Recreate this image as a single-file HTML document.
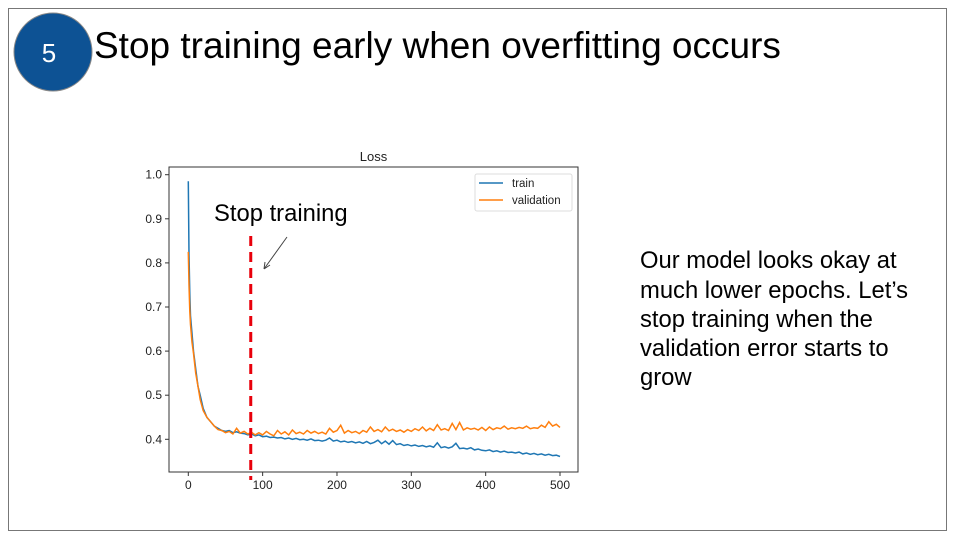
<!DOCTYPE html>
<html><head><meta charset="utf-8"><style>
body{margin:0;width:960px;height:540px;background:#fff;overflow:hidden;font-family:"Liberation Sans",sans-serif;}
</style></head><body>
<svg width="960" height="540" xmlns="http://www.w3.org/2000/svg">
<rect x="8.5" y="8.5" width="938" height="522" fill="#fff" stroke="#777"/>
<circle cx="53" cy="52" r="39" fill="#0d5294" stroke="#888"/>
<text x="49" y="62" font-size="26" fill="#fff" text-anchor="middle">5</text>
<text x="94" y="58" font-size="37" fill="#000">Stop training early when overfitting occurs</text>
<g font-size="23.8" fill="#000">
<text x="640" y="268">Our model looks okay at</text>
<text x="640" y="298">much lower epochs. Let’s</text>
<text x="640" y="327">stop training when the</text>
<text x="640" y="356">validation error starts to</text>
<text x="640" y="385">grow</text>
</g>
<g id="chart"></g>
</svg>
<script>
const epochs=[0,1,2,3,5,7,10,13,16,20,25,30,35,40,45,50,55,60,65,70,75,80,85,90,95,100,105,110,115,120,125,130,135,140,145,150,155,160,165,170,175,180,185,190,195,200,205,210,215,220,225,230,235,240,245,250,255,260,265,270,275,280,285,290,295,300,305,310,315,320,325,330,335,340,345,350,355,360,365,370,375,380,385,390,395,400,405,410,415,420,425,430,435,440,445,450,455,460,465,470,475,480,485,490,495,500];
const trainLoss=[0.985,0.82,0.73,0.68,0.64,0.6,0.56,0.52,0.5,0.47,0.45,0.44,0.43,0.425,0.42,0.418,0.42,0.415,0.417,0.414,0.413,0.41,0.412,0.408,0.41,0.406,0.407,0.404,0.405,0.403,0.404,0.401,0.403,0.4,0.402,0.399,0.4,0.398,0.401,0.397,0.398,0.396,0.398,0.403,0.396,0.398,0.394,0.396,0.393,0.395,0.392,0.394,0.391,0.395,0.39,0.393,0.398,0.39,0.396,0.389,0.397,0.388,0.39,0.386,0.388,0.385,0.387,0.384,0.386,0.383,0.385,0.382,0.392,0.381,0.383,0.38,0.383,0.391,0.379,0.38,0.378,0.381,0.376,0.378,0.375,0.374,0.376,0.372,0.374,0.371,0.373,0.37,0.371,0.369,0.371,0.367,0.369,0.366,0.368,0.365,0.367,0.364,0.366,0.363,0.364,0.361];
const valLoss=[0.825,0.75,0.69,0.66,0.62,0.595,0.55,0.52,0.49,0.465,0.45,0.44,0.43,0.422,0.42,0.415,0.418,0.412,0.425,0.414,0.418,0.412,0.416,0.41,0.415,0.41,0.418,0.412,0.408,0.42,0.412,0.417,0.41,0.421,0.413,0.416,0.412,0.42,0.414,0.418,0.413,0.416,0.412,0.425,0.416,0.42,0.432,0.414,0.42,0.415,0.418,0.413,0.42,0.416,0.428,0.418,0.422,0.417,0.428,0.419,0.423,0.418,0.421,0.416,0.422,0.418,0.424,0.42,0.428,0.419,0.425,0.42,0.433,0.421,0.424,0.42,0.436,0.422,0.438,0.421,0.426,0.423,0.425,0.421,0.427,0.42,0.428,0.422,0.426,0.424,0.43,0.423,0.426,0.424,0.427,0.425,0.43,0.424,0.426,0.425,0.432,0.427,0.44,0.43,0.434,0.427];
const xTicks=[0,100,200,300,400,500];
const yTicks=[0.4,0.5,0.6,0.7,0.8,0.9,1.0];
const stopEpoch=84;

const NS="http://www.w3.org/2000/svg";
const g=document.getElementById('chart');
const L=169,R=578,T=167,B=472;
const xs=v=>188.3+(v-0)*(560-188.3)/500;
const ys=v=>439.3-(v-0.4)*(439.3-174.7)/0.6;
function mk(tag,attrs){const e=document.createElementNS(NS,tag);for(const k in attrs)e.setAttribute(k,attrs[k]);g.appendChild(e);return e;}
let t=mk('text',{x:(L+R)/2,y:161,'font-size':13,fill:'#222','text-anchor':'middle'});t.textContent='Loss';


xTicks.forEach(v=>{const l=mk('line',{x1:xs(v),x2:xs(v),y1:B,y2:B+4,stroke:'#333'});


const tx=mk('text',{x:xs(v),y:B+17,'font-size':12,fill:'#222','text-anchor':'middle'});tx.textContent=v;

});
yTicks.forEach(v=>{const l=mk('line',{x1:L-4,x2:L,y1:ys(v),y2:ys(v),stroke:'#333'});


const tx=mk('text',{x:L-7,y:ys(v)+4,'font-size':12,fill:'#222','text-anchor':'end'});tx.textContent=v.toFixed(1);

});
function series(vals,color,name){const d=vals.map((v,i)=>(i?'L':'M')+xs(epochs[i]).toFixed(1)+','+ys(v).toFixed(1)).join('');
const p=mk('path',{d:d,fill:'none',stroke:color,'stroke-width':1.5});

}
series(trainLoss,'#1f77b4','train-line');
series(valLoss,'#ff7f0e','validation-line');
const fr=mk('rect',{x:L,y:T,width:R-L,height:B-T,fill:'none',stroke:'#333','stroke-width':1});


const sl=mk('line',{x1:xs(stopEpoch),x2:xs(stopEpoch),y1:236,y2:480,stroke:'#e8000b','stroke-width':3,'stroke-dasharray':'10,6'});


const st=mk('text',{x:214,y:221,'font-size':23.8,fill:'#000'});st.textContent='Stop training';


const ar=mk('path',{d:'M287,237 L264,269 M264,269 L265,262 M264,269 L270,265',stroke:'#444',fill:'none','stroke-width':1});


const lg=mk('rect',{x:475,y:174,width:97,height:37,fill:'#fff',stroke:'#ddd',rx:2});


[['train','#1f77b4',183],['validation','#ff7f0e',200]].forEach(([n,c,y])=>{
const l=mk('line',{x1:479,x2:503,y1:y,y2:y,stroke:c,'stroke-width':1.5});


const tx=mk('text',{x:512,y:y+4,'font-size':11.5,fill:'#222'});tx.textContent=n;

});
</script>
</body></html>
